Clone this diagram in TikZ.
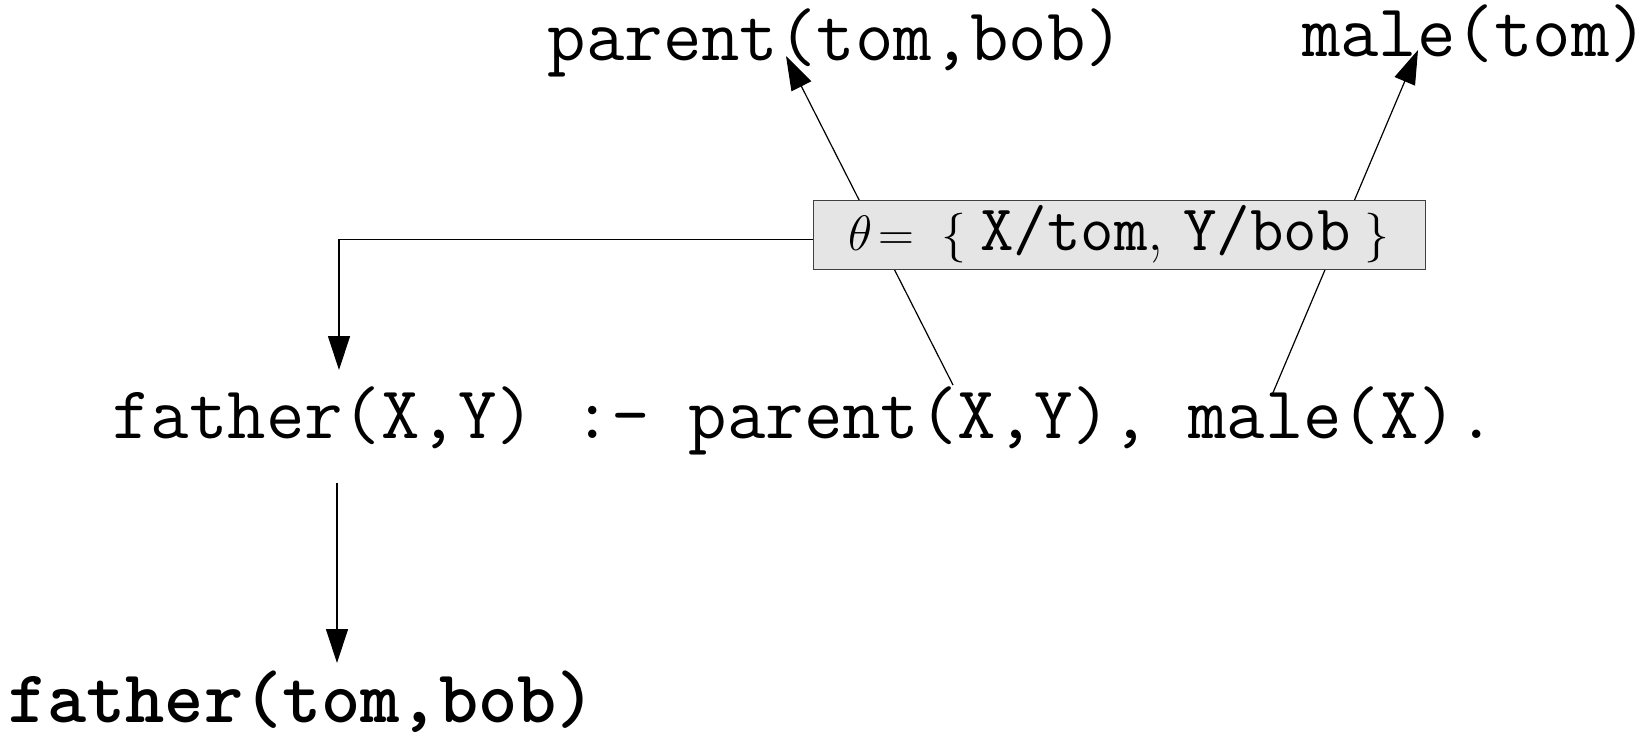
\documentclass[tikz,border=0pt]{standalone}
\usepackage{tikz}
\usetikzlibrary{arrows.meta}
\tikzset{term/.style={font=\ttfamily\fontsize{37.3pt}{43pt}\selectfont,anchor=base,inner sep=0pt},
  goal/.style={term,font=\ttfamily\bfseries\fontsize{37.3pt}{43pt}\selectfont},
  subst/.style={draw=black!75,fill=black!10,minimum width=306pt,minimum height=34.5pt,inner sep=0pt,font=\fontsize{32.5pt}{38pt}\selectfont},
  link/.style={-{Triangle[length=17pt,width=11pt]},line width=0.6pt}}
\begin{document}
\begin{tikzpicture}[x=0.5pt,y=-0.5pt]
    \useasboundingbox (0,0) rectangle (1652,740);
    \node[term] (pfact) at (836,60) {parent(tom,bob)};
    \node[term] (mfact) at (1475,56) {male(tom)};
    \node[term] (rule) at (804,438) {father(X,Y) :- parent(X,Y), male(X).};
    \node[goal] (fact) at (302,722) {father(tom,bob)};
    \coordinate (ptip) at (786,56);
    \coordinate (pfoot) at (953,385);
    \coordinate (mtip) at (1418,50);
    \coordinate (mfoot) at (1272,395);
    \coordinate (headtop) at (339,370);
    \coordinate (headfoot) at (337,483);
    \coordinate (facttop) at (337,663);
    \draw[link] (pfoot) -- (ptip);
    \draw[link] (mfoot) -- (mtip);
    \node[subst] (theta) at (1119,234.5) {$\theta\!=\;\{\;$\texttt{X/tom}, \texttt{Y/bob}$\;\}$};
    \draw[link] ([yshift=-2.5pt]theta.west) -| (headtop);
    \draw[link] (headfoot) -- (facttop);
\end{tikzpicture}
\end{document}
